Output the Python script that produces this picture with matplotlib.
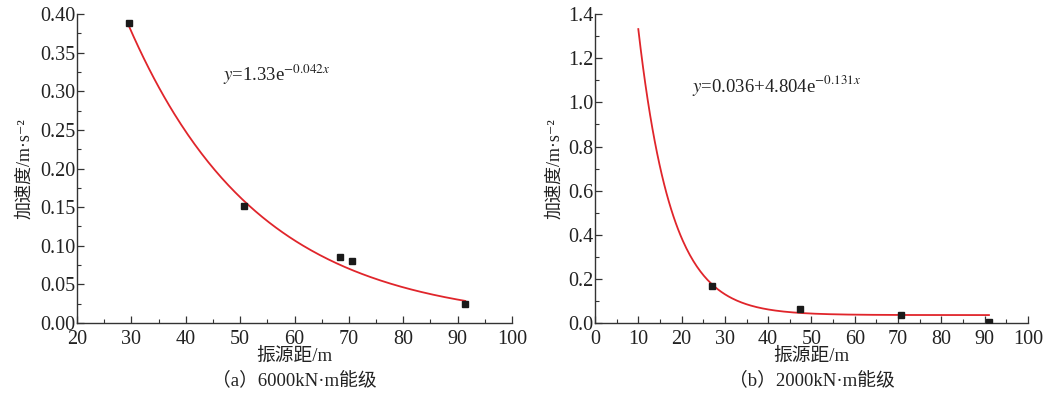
import numpy as np
import matplotlib
matplotlib.use("Agg")
import matplotlib.pyplot as plt
from matplotlib.ticker import MultipleLocator

plt.rcParams['font.family'] = ['Liberation Serif', 'Noto Sans CJK SC', 'DejaVu Serif']
plt.rcParams['mathtext.fontset'] = 'stix'

# (a) 6000kN·m
dist_a = [29.5, 50.7, 68.3, 70.6, 91.4]
acc_a = [0.388, 0.152, 0.086, 0.080, 0.025]
fit_a = (1.33, 0.042)          # y = a*exp(-b*x)
range_a = (29.5, 91.4)

# (b) 2000kN·m
dist_b = [27.0, 47.3, 70.6, 91.0]
acc_b = [0.170, 0.063, 0.037, 0.005]
fit_b = (0.036, 4.804, 0.131)  # y = c + a*exp(-b*x)
range_b = (10.0, 91.0)

fig = plt.figure(figsize=(10.61, 3.96), dpi=100)
ax1 = fig.add_axes([0.0726, 0.1843, 0.410, 0.780])
ax2 = fig.add_axes([0.5608, 0.1843, 0.408, 0.780])

red = '#e0252b'

xa = np.linspace(range_a[0], range_a[1], 200)
ax1.plot(xa, fit_a[0] * np.exp(-fit_a[1] * xa), color=red, lw=1.3, zorder=2)
ax1.plot(dist_a, acc_a, 's', color='#1a1a1a', ms=4.8, zorder=3)

xb = np.linspace(range_b[0], range_b[1], 300)
ax2.plot(xb, fit_b[0] + fit_b[1] * np.exp(-fit_b[2] * xb), color=red, lw=1.3, zorder=2)
ax2.plot(dist_b, acc_b, 's', color='#1a1a1a', ms=4.8, zorder=3)

ax1.set_xlim(20, 100)
ax1.set_ylim(0, 0.40)
ax1.xaxis.set_major_locator(MultipleLocator(10))
ax1.xaxis.set_minor_locator(MultipleLocator(5))
ax1.yaxis.set_major_locator(MultipleLocator(0.05))
ax1.yaxis.set_minor_locator(MultipleLocator(0.025))
ax1.yaxis.set_major_formatter(lambda v, p: f"{v:.2f}")

ax2.set_xlim(0, 100)
ax2.set_ylim(0, 1.4)
ax2.xaxis.set_major_locator(MultipleLocator(10))
ax2.xaxis.set_minor_locator(MultipleLocator(5))
ax2.yaxis.set_major_locator(MultipleLocator(0.2))
ax2.yaxis.set_minor_locator(MultipleLocator(0.1))
ax2.yaxis.set_major_formatter(lambda v, p: f"{v:.1f}")

for ax, lx in ((ax1, -0.12), (ax2, -0.092)):
    ax.spines['top'].set_visible(False)
    ax.spines['right'].set_visible(False)
    for s in ('left', 'bottom'):
        ax.spines[s].set_color('#333333')
        ax.spines[s].set_linewidth(1.0)
    ax.tick_params(which='major', direction='in', length=5, width=0.9,
                   labelsize=14.5, pad=1, colors='#333333', labelcolor='#222222')
    ax.tick_params(axis='x', which='major', pad=5)
    ax.tick_params(which='minor', direction='in', length=3, width=0.8, colors='#333333')
    ax.set_xlabel('振源距/m', fontsize=13.5, color='#222222')
    ax.xaxis.set_label_coords(0.5, -0.107)
    ax.xaxis.label.set_va('center')
    ax.set_ylabel('加速度/m·s⁻²', fontsize=13, color='#222222')
    ax.yaxis.set_label_coords(lx, 0.5)
    ax.yaxis.label.set_va('center')

ax1.text(46.9, 0.321, r'$y$=1.33e$^{-0.042x}$', fontsize=13.5, va='center', color='#222222')
ax2.text(22.4, 1.078, r'$y$=0.036+4.804e$^{-0.131x}$', fontsize=13.5, va='center', color='#222222')

ax1.text(0.5, -0.184, '（a）6000kN·m能级', transform=ax1.transAxes, ha='center',
         va='center', fontsize=13.5, color='#222222')
ax2.text(0.5, -0.184, '（b）2000kN·m能级', transform=ax2.transAxes, ha='center',
         va='center', fontsize=13.5, color='#222222')

fig.savefig('out.png', dpi=100)
